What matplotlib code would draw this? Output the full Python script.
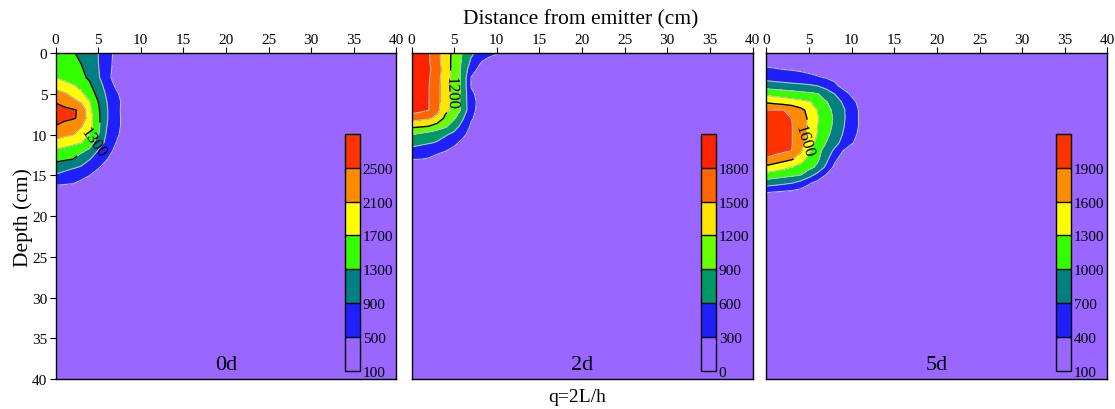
import numpy as np
import matplotlib
matplotlib.use("Agg")
import matplotlib.pyplot as plt

plt.rcParams['font.family'] = ['Liberation Serif', 'DejaVu Serif']

# grid points (cm); far edge of the domain is 40 cm
distance = [0, 1, 2, 3, 4, 5, 6, 7, 8, 9, 10, 11, 12]
depth = [0, 1, 2, 3, 4, 5, 6, 7, 8, 9, 10, 11, 12, 13, 14, 15, 16, 17, 18]
domain_edge = 40
background = 100

# values per depth row (rows = depth, columns = distance)
values_0d = [
    [1600, 1470, 1345, 1200, 1050, 905, 665, 430, 250, 150, 100, 100, 100],
    [1620, 1510, 1400, 1280, 1090, 905, 650, 420, 250, 150, 100, 100, 100],
    [1660, 1555, 1450, 1345, 1160, 925, 640, 400, 230, 140, 100, 100, 100],
    [1690, 1590, 1485, 1380, 1245, 960, 620, 380, 220, 130, 100, 100, 100],
    [1950, 1845, 1740, 1575, 1365, 1070, 760, 470, 280, 160, 100, 100, 100],
    [2250, 2155, 2005, 1770, 1500, 1190, 840, 600, 350, 200, 120, 100, 100],
    [2480, 2350, 2220, 2060, 1710, 1310, 910, 650, 420, 250, 140, 100, 100],
    [2650, 2595, 2540, 2450, 1800, 1370, 940, 620, 420, 250, 150, 100, 100],
    [2650, 2590, 2535, 2440, 1850, 1400, 945, 620, 430, 260, 150, 100, 100],
    [2480, 2365, 2250, 2135, 1820, 1390, 910, 650, 410, 250, 150, 100, 100],
    [2230, 2175, 2120, 1950, 1670, 1335, 850, 600, 380, 230, 140, 100, 100],
    [2000, 1905, 1805, 1710, 1460, 1100, 810, 520, 330, 200, 120, 100, 100],
    [1620, 1535, 1450, 1365, 1227, 878, 655, 435, 270, 160, 100, 100, 100],
    [1420, 1365, 1310, 1130, 920, 720, 520, 350, 220, 130, 100, 100, 100],
    [1100, 1030, 955, 867, 700, 533, 380, 250, 160, 100, 100, 100, 100],
    [870, 780, 685, 590, 505, 380, 270, 180, 120, 100, 100, 100, 100],
    [560, 535, 510, 440, 350, 260, 180, 120, 100, 100, 100, 100, 100],
    [300, 290, 270, 230, 190, 150, 120, 100, 100, 100, 100, 100, 100],
    [150, 150, 140, 130, 120, 110, 100, 100, 100, 100, 100, 100, 100],
]

values_2d = [
    [2000, 1913, 1826, 1590, 1340, 1108, 877, 646, 523, 426, 329, 230, 150],
    [2000, 1917, 1833, 1600, 1340, 1104, 853, 557, 343, 200, 130, 100, 100],
    [2000, 1926, 1852, 1650, 1340, 1100, 825, 430, 230, 150, 100, 100, 100],
    [2000, 1917, 1833, 1600, 1340, 1100, 814, 290, 200, 130, 100, 100, 100],
    [2000, 1909, 1818, 1582, 1340, 1100, 814, 280, 190, 120, 100, 100, 100],
    [2000, 1907, 1814, 1586, 1340, 1100, 814, 350, 220, 140, 100, 100, 100],
    [2000, 1905, 1810, 1585, 1340, 1096, 800, 386, 240, 150, 100, 100, 100],
    [1950, 1879, 1807, 1575, 1267, 1114, 825, 375, 230, 150, 100, 100, 100],
    [1620, 1577, 1534, 1425, 1125, 938, 633, 330, 200, 130, 100, 100, 100],
    [1260, 1230, 1195, 1070, 940, 740, 485, 260, 170, 110, 100, 100, 100],
    [905, 840, 770, 700, 635, 517, 350, 220, 140, 100, 100, 100, 100],
    [750, 690, 630, 580, 450, 350, 250, 170, 120, 100, 100, 100, 100],
    [450, 412, 375, 337, 305, 240, 180, 130, 100, 100, 100, 100, 100],
    [310, 305, 290, 250, 200, 160, 120, 100, 100, 100, 100, 100, 100],
    [150, 150, 140, 130, 120, 110, 100, 100, 100, 100, 100, 100, 100],
    [100, 100, 100, 100, 100, 100, 100, 100, 100, 100, 100, 100, 100],
    [100, 100, 100, 100, 100, 100, 100, 100, 100, 100, 100, 100, 100],
    [100, 100, 100, 100, 100, 100, 100, 100, 100, 100, 100, 100, 100],
    [100, 100, 100, 100, 100, 100, 100, 100, 100, 100, 100, 100, 100],
]

values_5d = [
    [300, 290, 280, 260, 240, 220, 200, 180, 160, 140, 120, 110, 100],
    [350, 340, 330, 310, 290, 270, 250, 220, 190, 160, 130, 110, 100],
    [420, 410, 398, 385, 370, 350, 320, 290, 250, 200, 160, 120, 100],
    [600, 570, 540, 510, 480, 450, 420, 385, 330, 260, 190, 130, 100],
    [850, 828, 806, 784, 762, 740, 690, 600, 463, 305, 200, 130, 100],
    [1230, 1193, 1157, 1120, 1084, 1047, 1011, 834, 695, 520, 350, 220, 140],
    [1560, 1512, 1464, 1416, 1368, 1319, 1194, 1018, 841, 665, 489, 312, 200],
    [1905, 1903, 1901, 1829, 1686, 1508, 1282, 1106, 925, 737, 550, 362, 230],
    [2050, 2000, 1950, 1895, 1733, 1554, 1323, 1141, 957, 743, 550, 362, 230],
    [2100, 2035, 1970, 1906, 1741, 1550, 1295, 1124, 936, 722, 541, 365, 190],
    [2100, 2035, 1970, 1906, 1731, 1525, 1280, 1080, 880, 682, 506, 330, 210],
    [2100, 2035, 1970, 1906, 1707, 1450, 1200, 995, 800, 612, 435, 260, 160],
    [2050, 2000, 1950, 1895, 1650, 1333, 1120, 850, 650, 395, 230, 150, 100],
    [1870, 1790, 1710, 1630, 1437, 1217, 1050, 790, 467, 270, 170, 110, 100],
    [1530, 1453, 1377, 1295, 1193, 1086, 940, 640, 340, 220, 140, 100, 100],
    [1170, 1127, 1085, 1042, 995, 800, 593, 380, 250, 160, 100, 100, 100],
    [830, 784, 737, 690, 565, 425, 300, 200, 130, 100, 100, 100, 100],
    [430, 410, 390, 360, 320, 270, 210, 150, 110, 100, 100, 100, 100],
    [200, 195, 185, 170, 150, 130, 110, 100, 100, 100, 100, 100, 100],
]

levels_0d = [100, 500, 900, 1300, 1700, 2100, 2500, 2900]
levels_2d = [0, 300, 600, 900, 1200, 1500, 1800, 2100]
levels_5d = [100, 400, 700, 1000, 1300, 1600, 1900, 2200]

colors_a = ['#9966FF', '#2020FF', '#008080', '#33FF00', '#FFFF00', '#FF8C00', '#FF3300']
colors_b = ['#9966FF', '#2020FF', '#009966', '#66FF00', '#FFE600', '#FF6600', '#FF2200']

panels = [
    ('0d', values_0d, levels_0d, colors_a, [1300, 2500], [(4.5, 11.0)], 1300),
    ('2d', values_2d, levels_2d, colors_b, [1200], [(4.4, 4.8)], 1200),
    ('5d', values_5d, levels_5d, colors_a, [1600], [(4.4, 10.8)], 1600),
]

X = np.array(distance + [domain_edge], dtype=float)
Y = np.array(depth + [domain_edge], dtype=float)

fig = plt.figure(figsize=(11.15, 4.10), dpi=100)
lefts = [0.0498, 0.3691, 0.6874]

for i, (name, vals, levels, cols, black_levels, lab_pos, lab_level) in enumerate(panels):
    ax = fig.add_axes([lefts[i], 0.0732, 0.3058, 0.795])
    Z = np.pad(np.array(vals, dtype=float), ((0, 1), (0, 1)), constant_values=background)
    ax.set_facecolor(cols[0])
    cf = ax.contourf(X, Y, Z, levels=levels, colors=cols)
    ax.contour(X, Y, Z, levels=levels[1:-1], colors='#BDBDBD', linewidths=0.8)
    others = [lv for lv in black_levels if lv != lab_level]
    if others:
        ax.contour(X, Y, Z, levels=others, colors='k', linewidths=1.0)
    lab = ax.contour(X, Y, Z, levels=[lab_level], colors='k', linewidths=1.0)
    ax.clabel(lab, fmt='%d', fontsize=12, inline=True, manual=lab_pos)

    ax.set_xlim(0, 40)
    ax.set_ylim(40, 0)
    ax.xaxis.tick_top()
    ax.set_xticks(range(0, 41, 5))
    ax.set_yticks(range(0, 41, 5))
    ax.tick_params(axis='x', direction='out', length=4, labelsize=11, pad=1)
    if i == 0:
        ax.tick_params(axis='y', direction='out', length=4, labelsize=11, pad=2)
    else:
        ax.tick_params(axis='y', left=False, labelleft=False)
    for sp in ax.spines.values():
        sp.set_linewidth(1.0)

    ax.text(0.5, 0.045, name, transform=ax.transAxes, ha='center', va='center', fontsize=16)

    cax = ax.inset_axes([0.849, 0.025, 0.044, 0.727])
    cb = fig.colorbar(cf, cax=cax, ticks=levels[:-1], drawedges=True)
    cb.outline.set_linewidth(1.0)
    cb.dividers.set_linewidth(1.0)
    cax.tick_params(length=0, labelsize=11, pad=2)

fig.text(0.521, 0.952, 'Distance from emitter (cm)', ha='center', va='center', fontsize=15.5)
fig.text(0.021, 0.47, 'Depth (cm)', ha='center', va='center', rotation=90, fontsize=15.5)
fig.text(0.518, 0.03, 'q=2L/h', ha='center', va='center', fontsize=14)

fig.savefig('out.png', dpi=100)
